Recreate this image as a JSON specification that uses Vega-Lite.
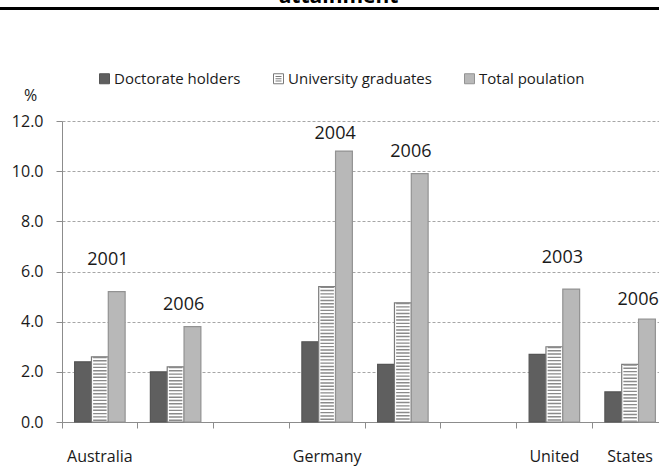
{
  "$schema": "https://vega.github.io/schema/vega-lite/v6.json",
  "width": 597,
  "height": 301,
  "autosize": "none",
  "padding": {"left": 62, "top": 121, "right": 0, "bottom": 46},
  "title": {"text": "attainment", "fontSize": 21, "fontWeight": "bold", "color": "#000000", "anchor": "middle", "frame": "group", "dx": -22, "dy": 17.5, "baseline": "alphabetic", "offset": 0},
  "config": {"font": "Open Sans", "view": {"stroke": null}},
  "datasets": {
    "bars": [
      {"slot": "Australia 2001", "series": "Doctorate holders", "value": 2.4},
      {"slot": "Australia 2001", "series": "University graduates", "value": 2.6},
      {"slot": "Australia 2001", "series": "Total poulation", "value": 5.2},
      {"slot": "Australia 2006", "series": "Doctorate holders", "value": 2.0},
      {"slot": "Australia 2006", "series": "University graduates", "value": 2.2},
      {"slot": "Australia 2006", "series": "Total poulation", "value": 3.8},
      {"slot": "Germany 2004", "series": "Doctorate holders", "value": 3.2},
      {"slot": "Germany 2004", "series": "University graduates", "value": 5.4},
      {"slot": "Germany 2004", "series": "Total poulation", "value": 10.8},
      {"slot": "Germany 2006", "series": "Doctorate holders", "value": 2.3},
      {"slot": "Germany 2006", "series": "University graduates", "value": 4.75},
      {"slot": "Germany 2006", "series": "Total poulation", "value": 9.9},
      {"slot": "United States 2003", "series": "Doctorate holders", "value": 2.7},
      {"slot": "United States 2003", "series": "University graduates", "value": 3.0},
      {"slot": "United States 2003", "series": "Total poulation", "value": 5.3},
      {"slot": "United States 2006", "series": "Doctorate holders", "value": 1.2},
      {"slot": "United States 2006", "series": "University graduates", "value": 2.3},
      {"slot": "United States 2006", "series": "Total poulation", "value": 4.1}
    ],
    "years": [
      {"slot": "Australia 2001", "year": "2001", "labelPos": 6.45},
      {"slot": "Australia 2006", "year": "2006", "labelPos": 4.65},
      {"slot": "Germany 2004", "year": "2004", "labelPos": 11.47},
      {"slot": "Germany 2006", "year": "2006", "labelPos": 10.75},
      {"slot": "United States 2003", "year": "2003", "labelPos": 6.55},
      {"slot": "United States 2006", "year": "2006", "labelPos": 4.88}
    ]
  },
  "layer": [
    {
      "data": {"name": "bars"},
      "mark": {"type": "bar", "strokeWidth": 1.2},
      "encoding": {
        "x": {
          "field": "slot", "type": "nominal",
          "scale": {"domain": ["Australia 2001", "Australia 2006", "gap1", "Germany 2004", "Germany 2006", "gap2", "United States 2003", "United States 2006"], "paddingInner": 0, "paddingOuter": 0, "range": [0, 606]},
          "axis": {
            "title": null, "bandPosition": 0, "labelOffset": 0, "labelAngle": 0,
            "labelExpr": "datum.value === 'Australia 2001' ? 'Australia' : datum.value === 'Germany 2004' ? 'Germany' : datum.value === 'United States 2003' ? 'United' : datum.value === 'United States 2006' ? 'States' : ''",
            "labelFontSize": 16, "labelColor": "#1a1a1a", "labelBaseline": "middle", "labelPadding": 28, "labelOverlap": false,
            "tickSize": 6, "tickColor": "#8c8c8c", "domainColor": "#8c8c8c", "grid": false
          }
        },
        "xOffset": {"field": "series", "type": "nominal", "scale": {"domain": ["Doctorate holders", "University graduates", "Total poulation"], "paddingInner": 0, "paddingOuter": 0.75}},
        "y": {
          "field": "value", "type": "quantitative",
          "scale": {"domain": [0, 12], "nice": false},
          "axis": {
            "title": "%", "titleAngle": 0, "titleX": -32, "titleY": -26, "titleAlign": "center", "titleBaseline": "middle",
            "titleFontSize": 16, "titleFontWeight": "normal", "titleColor": "#1a1a1a",
            "values": [0, 2, 4, 6, 8, 10, 12], "format": ".1f",
            "labelFontSize": 16, "labelColor": "#1a1a1a", "labelPadding": 13,
            "tickSize": 6, "tickColor": "#8c8c8c", "domainColor": "#8c8c8c",
            "grid": true, "gridColor": "#a6a6a6", "gridDash": [3, 2], "gridWidth": 1
          }
        },
        "fill": {
          "field": "series", "type": "nominal",
          "scale": {"domain": ["Doctorate holders", "University graduates", "Total poulation"], "range": ["#5f5f5f", "#ffffff", "#b8b8b8"]},
          "legend": {
            "title": null, "orient": "none", "legendX": 35, "legendY": -50, "direction": "horizontal",
            "symbolSize": 100, "symbolType": "square", "symbolStrokeWidth": 1,
            "labelFontSize": 15, "labelColor": "#1a1a1a", "labelOffset": 2, "columnPadding": 30, "padding": 0, "labelLimit": 300,
            "encode": {"symbols": {"update": {"shape": {"signal": "datum.value === 'University graduates' ? 'M-1,-1H1V1H-1Z M-0.6,-0.45H0.6 M-0.6,0H0.6 M-0.6,0.45H0.6' : 'square'"}}}}
          }
        },
        "stroke": {
          "field": "series", "type": "nominal",
          "scale": {"domain": ["Doctorate holders", "University graduates", "Total poulation"], "range": ["#555555", "#7a7a7a", "#929292"]},
          "legend": {
            "title": null, "orient": "none", "legendX": 35, "legendY": -50, "direction": "horizontal",
            "symbolSize": 100, "symbolType": "square", "symbolStrokeWidth": 1,
            "labelFontSize": 15, "labelColor": "#1a1a1a", "labelOffset": 2, "columnPadding": 30, "padding": 0, "labelLimit": 300,
            "encode": {"symbols": {"update": {"shape": {"signal": "datum.value === 'University graduates' ? 'M-1,-1H1V1H-1Z M-0.6,-0.45H0.6 M-0.6,0H0.6 M-0.6,0.45H0.6' : 'square'"}}}}
          }
        }
      }
    },
    {
      "data": {"name": "bars"},
      "transform": [{"filter": "datum.series === 'University graduates'"}],
      "mark": {"type": "rule", "strokeWidth": 13.5, "strokeDash": [1.4, 1.9], "color": "#8a8a8a", "strokeCap": "butt"},
      "encoding": {
        "x": {"field": "slot", "type": "nominal"},
        "xOffset": {"field": "series", "type": "nominal"},
        "y": {"field": "value", "type": "quantitative"},
        "y2": {"datum": 0}
      }
    },
    {
      "data": {"name": "years"},
      "mark": {"type": "text", "fontSize": 18, "dx": 8, "color": "#1a1a1a", "baseline": "middle"},
      "encoding": {
        "x": {"field": "slot", "type": "nominal"},
        "y": {"field": "labelPos", "type": "quantitative"},
        "text": {"field": "year"}
      }
    },
    {
      "data": {"values": [{}]},
      "mark": {"type": "rule", "color": "#000000", "strokeWidth": 3},
      "encoding": {
        "y": {"datum": 16.49, "type": "quantitative"},
        "x": {"value": -62},
        "x2": {"value": 597}
      }
    }
  ]
}
